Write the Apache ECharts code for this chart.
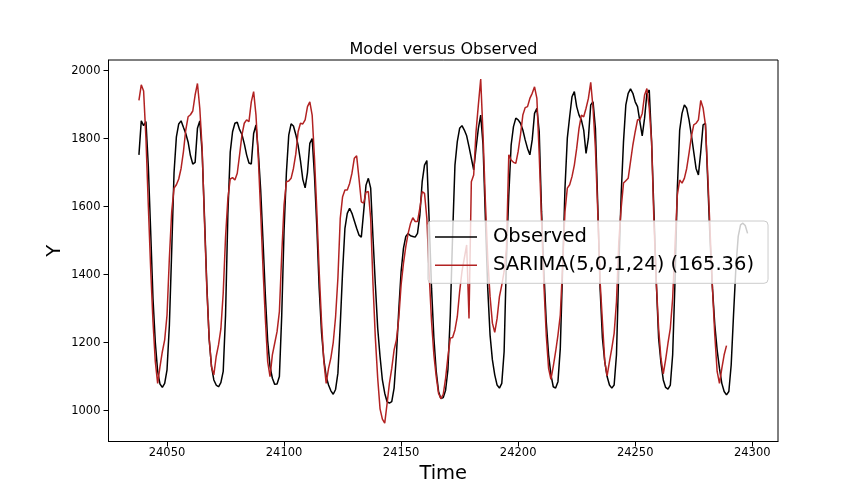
<!DOCTYPE html>
<html>
<head>
<meta charset="utf-8">
<script src="https://cdn.jsdelivr.net/npm/echarts/dist/echarts.min.js"></script>
<style>
html,body{margin:0;padding:0;background:#fff;}
#chart{width:864px;height:504px;}
</style>
</head>
<body>
<div id="chart"></div>
<script>
// ---- data ----
const timeStart = 24038; // first hour index of both series
const observed = [
1752,1852,1838,1850,1720,1530,1330,1200,1115,1078,1068,1080,1120,1250,1470,1700,1805,1843,1852,1833,
1815,1790,1750,1725,1730,1830,1852,1760,1570,1370,1210,1130,1090,1075,1070,1082,1115,1280,1580,1760,
1820,1845,1848,1826,1812,1785,1752,1728,1725,1815,1840,1760,1650,1500,1340,1205,1130,1095,1077,1078,
1100,1280,1530,1700,1810,1843,1837,1812,1780,1735,1680,1655,1700,1786,1800,1690,1540,1360,1230,1150,
1100,1075,1058,1048,1062,1110,1252,1409,1536,1580,1595,1580,1558,1536,1516,1510,1585,1663,1683,1654,
1507,1370,1242,1159,1090,1051,1026,1022,1026,1066,1164,1296,1409,1477,1512,1521,1514,1512,1510,1521,
1575,1673,1722,1735,1556,1360,1213,1115,1056,1035,1038,1060,1120,1281,1516,1722,1791,1830,1838,1825,
1808,1776,1742,1708,1771,1830,1869,1781,1565,1360,1222,1149,1105,1075,1066,1080,1173,1448,1634,1781,
1835,1860,1855,1845,1825,1796,1771,1752,1796,1874,1889,1820,1585,1409,1262,1164,1105,1070,1066,1085,
1183,1419,1654,1801,1864,1923,1938,1894,1869,1855,1825,1756,1801,1899,1908,1830,1605,1360,1213,1144,
1100,1075,1066,1075,1164,1419,1634,1791,1899,1933,1946,1933,1908,1894,1850,1808,1860,1933,1943,1791,
1585,1379,1213,1140,1090,1068,1063,1075,1164,1380,1654,1825,1874,1899,1889,1855,1810,1761,1712,1693,
1761,1840,1845,1673,1497,1360,1252,1178,1124,1080,1056,1046,1056,1134,1281,1419,1512,1546,1551,1544,
1521
];
const sarima = [
1912,1958,1940,1800,1605,1419,1262,1144,1080,1129,1173,1208,1281,1448,1585,1654,1664,1681,1712,1761,
1825,1864,1870,1881,1928,1962,1889,1771,1556,1360,1213,1129,1105,1159,1193,1240,1345,1510,1624,1681,
1685,1678,1698,1752,1810,1845,1855,1850,1908,1938,1869,1742,1585,1419,1271,1144,1100,1164,1198,1232,
1291,1458,1605,1673,1675,1683,1712,1754,1820,1845,1843,1855,1894,1908,1869,1742,1585,1409,1262,1144,
1080,1124,1155,1200,1275,1390,1565,1629,1649,1649,1668,1698,1742,1749,1683,1614,1610,1642,1644,1565,
1370,1213,1095,1005,975,963,1020,1080,1124,1178,1208,1271,1370,1433,1482,1521,1550,1567,1556,1556,
1595,1644,1639,1565,1399,1262,1164,1100,1050,1035,1048,1095,1159,1213,1215,1237,1276,1350,1409,1448,
1487,1271,1673,1693,1820,1899,1975,1811,1614,1448,1335,1257,1230,1271,1335,1369,1409,1477,1752,1737,
1730,1727,1762,1811,1869,1891,1894,1918,1933,1952,1918,1752,1556,1370,1222,1124,1092,1130,1173,1222,
1281,1428,1585,1654,1664,1688,1722,1771,1830,1869,1864,1889,1918,1965,1889,1771,1585,1380,1262,1144,
1102,1144,1183,1227,1320,1497,1595,1669,1676,1683,1732,1781,1820,1855,1855,1874,1928,1947,1889,1791,
1556,1379,1242,1154,1108,1150,1198,1242,1330,1487,1634,1678,1669,1683,1712,1757,1806,1840,1845,1855,
1912,1890,1840,1693,1526,1360,1222,1115,1080,1124,1164,1191
];
const xTicks = [24050, 24100, 24150, 24200, 24250, 24300];
const yTicks = [1000, 1200, 1400, 1600, 1800, 2000];
const seriesNames = ['Observed', 'SARIMA(5,0,1,24) (165.36)'];
const titleText = 'Model versus Observed';

// ---- build ----
const toPairs = arr => arr.map((v, i) => [timeStart + i, v]);
const FONT = 'DejaVu Sans';
const plain = v => String(v);
const chart = echarts.init(document.getElementById('chart'), null, {renderer: 'canvas'});
chart.setOption({
  animation: false,
  backgroundColor: '#ffffff',
  title: {
    text: titleText,
    left: 443.5,
    textAlign: 'center',
    top: 42,
    padding: 0,
    textStyle: {fontFamily: FONT, fontSize: 16, fontWeight: 'normal', color: '#000'}
  },
  grid: {
    left: 108.5, top: 60, right: 86, bottom: 62.5,
    show: true, borderColor: '#000', borderWidth: 1,
    containLabel: false, outerBoundsMode: 'none'
  },
  legend: {
    orient: 'vertical',
    left: 428, top: 221,
    padding: [5, 14, 7, 7],
    itemWidth: 42, itemHeight: 1.5, itemGap: 6.3,
    icon: 'rect',
    backgroundColor: 'rgba(255,255,255,0.8)',
    borderColor: '#cccccc', borderWidth: 1, borderRadius: 4,
    textStyle: {fontFamily: FONT, fontSize: 19.5, color: '#000', lineHeight: 22, padding: [0, 0, 0, 11]},
    data: seriesNames
  },
  xAxis: {
    type: 'value',
    min: 24025, max: 24311,
    name: 'Time', nameLocation: 'middle', nameGap: 22, nameMoveOverlap: false,
    nameTextStyle: {fontFamily: FONT, fontSize: 19.5, color: '#000'},
    axisLine: {show: true, onZero: false, lineStyle: {color: '#000', width: 1}},
    axisTick: {show: true, inside: false, length: 5, lineStyle: {color: '#000', width: 1}, customValues: xTicks},
    axisLabel: {show: true, margin: 6, fontFamily: FONT, fontSize: 11.5, color: '#000', customValues: xTicks, formatter: plain},
    splitLine: {show: false}
  },
  yAxis: {
    type: 'value',
    min: 909, max: 2031,
    name: 'Y', nameLocation: 'middle', nameGap: 44, nameMoveOverlap: false,
    nameTextStyle: {fontFamily: FONT, fontSize: 19.5, color: '#000'},
    axisLine: {show: true, onZero: false, lineStyle: {color: '#000', width: 1}},
    axisTick: {show: true, inside: false, length: 5, lineStyle: {color: '#000', width: 1}, customValues: yTicks},
    axisLabel: {show: true, margin: 8, fontFamily: FONT, fontSize: 11.5, color: '#000', customValues: yTicks, formatter: plain},
    splitLine: {show: false}
  },
  series: [
    {
      name: seriesNames[0], type: 'line', data: toPairs(observed),
      symbol: 'none', color: '#000000',
      lineStyle: {color: '#000000', width: 1.5}, z: 2
    },
    {
      name: seriesNames[1], type: 'line', data: toPairs(sarima),
      symbol: 'none', color: '#b22222',
      lineStyle: {color: '#b22222', width: 1.5}, z: 3
    }
  ]
});
</script>
</body>
</html>
